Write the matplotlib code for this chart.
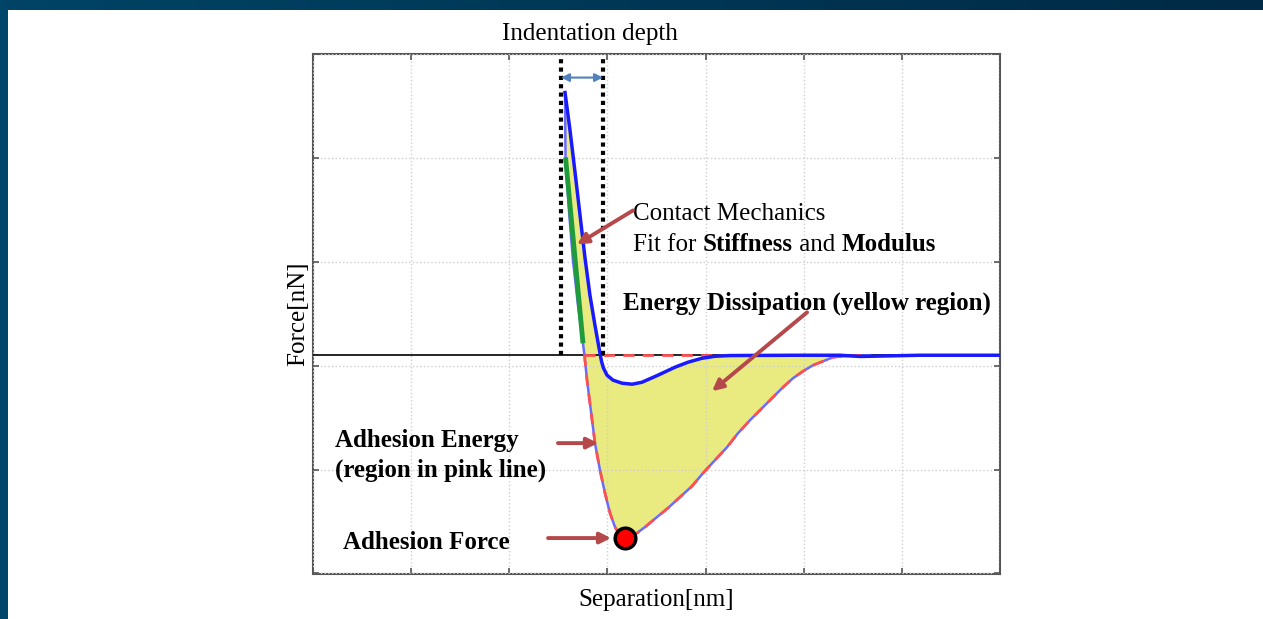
import matplotlib

matplotlib.use("Agg")
import matplotlib.pyplot as plt
import numpy as np

# Approach curve (blue): separation [nm], force [nN]
approach_x = [25.68, 26.19, 26.70, 27.21, 27.72, 28.22, 28.73, 29.04, 29.24, 29.40,
              29.60, 29.96, 30.57, 31.49, 32.51, 33.52, 35.15, 36.89, 38.21, 39.64,
              40.96, 42.49, 44.53, 49.62, 53.70, 55.74, 57.78, 61.85, 70.00]
approach_y = [25.29, 21.63, 17.60, 13.46, 9.33, 5.77, 2.88, 1.25, 0.20, -0.60,
              -1.25, -1.92, -2.40, -2.69, -2.79, -2.60, -1.92, -1.15, -0.67, -0.29,
              -0.10, -0.03, -0.02, 0.0, 0.0, -0.12, -0.08, 0.0, 0.0]

# Retract curve (lower branch)
retract_x = [25.68, 25.73, 26.08, 26.49, 27.00, 27.51, 27.66, 27.92, 28.22, 28.73,
             29.24, 29.75, 30.26, 30.77, 31.28, 31.79, 33.01, 33.83, 35.05, 36.17,
             37.40, 38.62, 39.74, 40.96, 42.19, 43.31, 44.53, 45.75, 46.87, 47.89,
             48.91, 49.93, 50.95, 51.97, 52.99, 53.90, 54.72, 56.76]
retract_y = [25.29, 19.04, 13.94, 9.13, 4.81, 1.15, 0.0, -2.40, -4.62, -8.46,
             -11.06, -13.27, -15.19, -16.54, -17.31, -17.60, -17.12, -16.54, -15.58, -14.71,
             -13.65, -12.60, -11.35, -10.10, -8.85, -7.50, -6.25, -5.10, -4.04, -3.08,
             -2.21, -1.54, -0.96, -0.58, -0.19, -0.10, -0.05, 0.0]

# Contact-mechanics fit segment
fit_x = [25.73, 27.51]
fit_y = [19.04, 1.15]

# Adhesion force point
adh_x = 31.79
adh_y = -17.60

# Indentation depth bounds
indent_x = [25.27, 29.55]

xticks = [0, 10, 20, 30, 40, 50, 60, 70]
yticks = [-21, -11, -1, 9, 19, 29]

SERIF = ["Liberation Serif", "DejaVu Serif"]
ARROW_RED = "#b5484a"
FS = 18

fig = plt.figure(figsize=(12.63, 6.19), dpi=100)
fig.patch.set_facecolor("white")

# dark blue slide frame (top band + left strip)
band = fig.add_axes([0, 1 - 10 / 619, 1, 10 / 619])
band.imshow(np.linspace(0, 1, 256)[None, :], aspect="auto",
            cmap=matplotlib.colors.LinearSegmentedColormap.from_list("b", ["#004466", "#002a45"]))
band.axis("off")
strip = fig.add_axes([0, 0, 8 / 1263, 1 - 10 / 619])
strip.set_facecolor("#00466a")
strip.set_xticks([])
strip.set_yticks([])
for s in strip.spines.values():
    s.set_visible(False)

ax = fig.add_axes([313 / 1263, 1 - 574 / 619, 687 / 1263, 520 / 619])
ax.set_xlim(0, 70)
ax.set_ylim(-21.06, 28.94)
ax.set_xticks(xticks)
ax.set_yticks(yticks)
ax.tick_params(direction="in", length=4, width=1.2, colors="#555555",
               top=True, right=True, labelleft=False, labelbottom=False)
for s in ax.spines.values():
    s.set_color("#555555")
    s.set_linewidth(1.5)
ax.grid(True, ls=":", color="#cfcfcf", lw=1.0)
ax.set_axisbelow(False)

# yellow energy dissipation region between the branches
fx = np.concatenate([retract_x, approach_x[::-1]])
fy = np.concatenate([retract_y, approach_y[::-1]])
ax.fill(fx, fy, color="#e9eb80", lw=0, zorder=1)

ax.axhline(0, color="black", lw=1.2, zorder=2.6)

# retract branch
ax.plot(retract_x, retract_y, color="#6a6aff", lw=1.8, zorder=3,
        solid_joinstyle="round")
neg = np.array(retract_y) <= 0
ax.plot(np.array(retract_x)[neg], np.array(retract_y)[neg], color="#ff5050",
        lw=2.0, ls=(0, (4, 3)), zorder=4)
ax.plot([retract_x[6], retract_x[-2]], [0, 0], color="#ff5050", lw=2.0,
        ls=(0, (4, 3)), zorder=4)
# approach branch
ax.plot(approach_x, approach_y, color="#1a1aff", lw=2.5, zorder=5,
        solid_joinstyle="round")
# fit segment
ax.plot(fit_x, fit_y, color="#1f9a3c", lw=3.5, zorder=6, solid_capstyle="butt")

ax.scatter([adh_x], [adh_y], s=220, color="#ff0000", edgecolor="black",
           linewidth=2.5, zorder=7)

# indentation depth markers
for xv in indent_x:
    ax.plot([xv, xv], [0, 28.94], color="black", lw=3, ls=(0, (1, 1)), zorder=6,
            clip_on=False)
ax.annotate("", xy=(indent_x[0], 26.73), xytext=(indent_x[1], 26.73),
            arrowprops=dict(arrowstyle="<|-|>", color="#4f81bd", lw=1.5,
                            mutation_scale=12, shrinkA=0, shrinkB=0), zorder=7)
ax.text(28.23, 30.96, "Indentation depth", ha="center", va="center",
        fontsize=FS, family=SERIF, clip_on=False)


def red_arrow(tail, tip):
    ax.annotate("", xy=tip, xytext=tail,
                arrowprops=dict(arrowstyle="-|>", color=ARROW_RED, lw=2.8,
                                mutation_scale=16, shrinkA=0, shrinkB=0), zorder=8)


red_arrow((32.61, 13.94), (26.90, 10.67))
red_arrow((50.34, 4.13), (40.66, -3.46))
red_arrow((24.96, -8.46), (29.04, -8.46))
red_arrow((23.95, -17.60), (30.37, -17.60))

ax.text(32.61, 13.55, "Contact Mechanics", ha="left", va="center",
        fontsize=FS, family=SERIF)
t = ax.text(32.61, 10.65, "Fit for ", ha="left", va="center",
            fontsize=FS, family=SERIF)
for word, weight in [("Stiffness", "bold"), (" and ", "normal"), ("Modulus", "bold")]:
    t = ax.annotate(word, xy=(1, 0), xycoords=t, ha="left", va="bottom",
                    fontsize=FS, family=SERIF, fontweight=weight)

ax.text(31.59, 5.0, "Energy Dissipation (yellow region)", ha="left", va="center",
        fontsize=FS, family=SERIF, fontweight="bold")
ax.text(2.24, -8.17, "Adhesion Energy", ha="left", va="center",
        fontsize=FS, family=SERIF, fontweight="bold")
ax.text(2.24, -11.06, "(region in pink line)", ha="left", va="center",
        fontsize=FS, family=SERIF, fontweight="bold")
ax.text(3.06, -17.98, "Adhesion Force", ha="left", va="center",
        fontsize=FS, family=SERIF, fontweight="bold")

ax.set_xlabel("Separation[nm]", fontsize=FS, family=SERIF, labelpad=11)
ax.set_ylabel("Force[nN]", fontsize=FS, family=SERIF, labelpad=3)

fig.savefig("out.png", dpi=100)
